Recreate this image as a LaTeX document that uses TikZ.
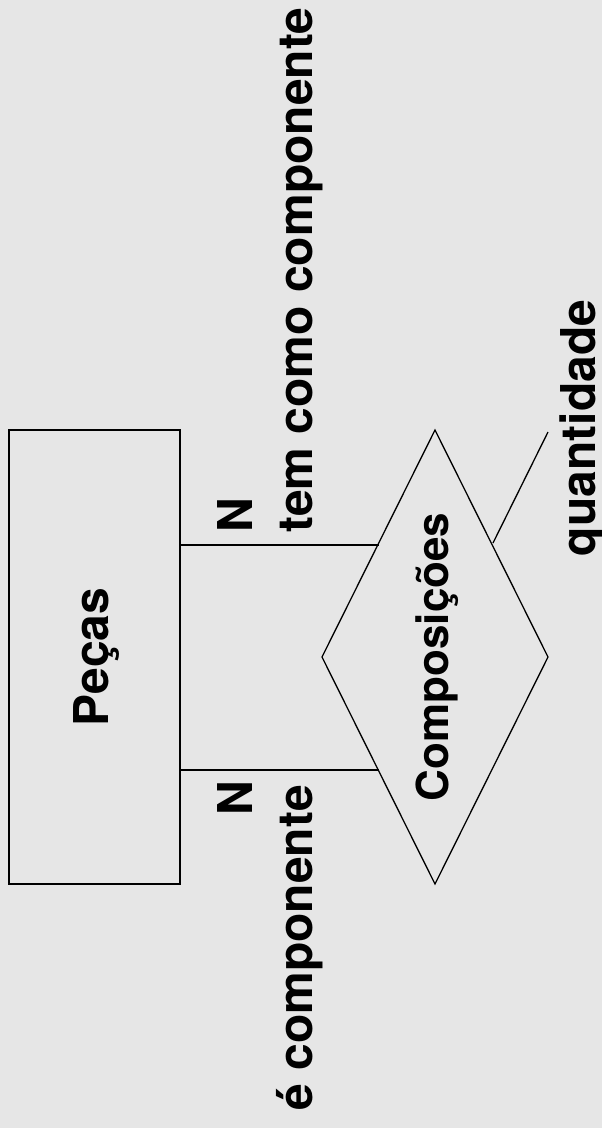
\documentclass[tikz,border=0pt]{standalone}
\usepackage{fontspec}
\setmainfont{TeX Gyre Heros}
\definecolor{bgc}{RGB}{230,230,230}
\begin{document}
\begin{tikzpicture}[x=1pt,y=-1pt,
  lbl/.style={font=\fontsize{48}{50}\selectfont\bfseries, inner sep=0pt, rotate=90},
  lnk/.style={draw=black, line width=1.3pt}]
\fill[bgc] (0,0) rectangle (602,1128);
\useasboundingbox (0,0) rectangle (602,1128);
% entity
\node[draw, line width=1.5pt, minimum width=171pt, minimum height=454pt, inner sep=0pt] (pecas) at (94.5,657) {};
\node[lbl, anchor=base] (pecastxt) at (108,657) {Peças};
% relationship diamond
\coordinate (dT) at (435,430);
\coordinate (dB) at (435,884);
\coordinate (dL) at (322,657);
\coordinate (dR) at (548,657);
\draw[lnk] (dT) -- (dR) -- (dB) -- (dL) -- cycle;
\node[lbl, font=\fontsize{44}{46}\selectfont\bfseries, anchor=base] (comp) at (448,657) {Composições};
% connectors
\coordinate (p1) at (180,545);
\coordinate (p2) at (180,770);
\coordinate (c1) at (378.5,545);
\coordinate (c2) at (378.5,770);
\draw[lnk] (p1) -- (c1);
\draw[lnk] (p2) -- (c2);
% attribute line
\coordinate (a1) at (493,543);
\coordinate (a2) at (548,432);
\draw[lnk] (a1) -- (a2);
% labels
\node[lbl] (n1) at (235,515) {N};
\node[lbl] (n2) at (235,798) {N};
\node[lbl, anchor=base] (tem) at (312,270) {tem como componente};
\node[lbl, anchor=base] (ecomp) at (312,948) {é componente};
\node[lbl, anchor=base] (quant) at (595,428) {quantidade};
\end{tikzpicture}
\end{document}
